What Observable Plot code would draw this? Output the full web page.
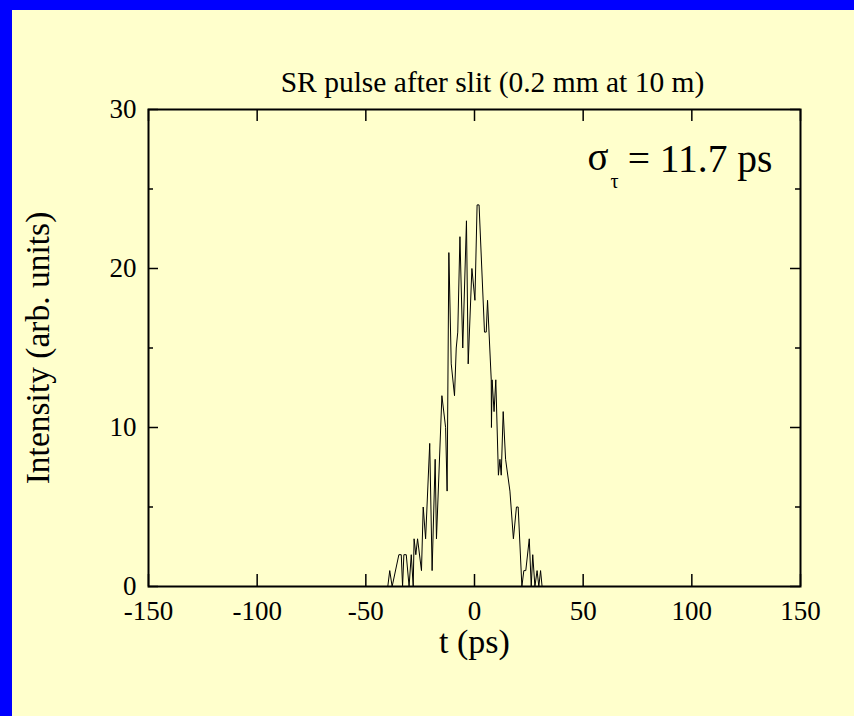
<!DOCTYPE html>
<html><head><meta charset="utf-8">
<script src="https://cdn.jsdelivr.net/npm/d3@7"></script>
<script src="https://cdn.jsdelivr.net/npm/@observablehq/plot@0.6"></script>
<style>
html,body{margin:0;padding:0;background:#FFFFCC;overflow:hidden;}
#wrap{position:absolute;left:0;top:0;width:842px;height:706px;border-left:12px solid #0000FF;border-top:10px solid #0000FF;background:#FFFFCC;}
svg{display:block;}
</style></head><body><div id="wrap"></div>
<script>
const time = [-150, -39.9, -39.0, -37.9, -34.8, -33.7, -33.1, -32.5, -31.4, -30.1, -29.1, -28.2, -27.8, -27.0, -26.2, -24.4, -23.6, -22.5, -20.6, -19.5, -18.1, -17.5, -15.0, -13.3, -12.6, -11.8, -10.7, -9.2, -8.4, -7.7, -6.7, -5.4, -3.7, -2.9, -1.2, 0.2, 1.2, 2.1, 4.6, 5.4, 6.0, 7.7, 7.8, 8.1, 9.0, 9.8, 11.0, 11.7, 12.3, 13.2, 14.3, 16.3, 17.9, 19.3, 20.1, 21.8, 22.7, 23.6, 25.2, 26.1, 26.8, 27.8, 28.8, 29.6, 30.4, 31.1, 150];
const intensity = [0, 0, 1, 0, 2, 2, 0, 2, 2, 0, 2, 0, 3, 2, 3, 1, 5, 3, 9, 1, 8, 3, 12, 10, 6, 21, 14, 12, 15, 16, 22, 15, 23, 14, 20, 18, 24, 24, 16, 16, 18, 13, 10, 13, 11, 13, 7, 8, 7, 11, 8, 6, 3, 5, 5, 0, 1, 1, 3, 0, 2, 0, 1, 0, 1, 0, 0];
const xTicks = [-150, -100, -50, 0, 50, 100, 150];
const yTicks = [0, 10, 20, 30];
const yMinorTicks = [5, 15, 25];
const titleText = "SR pulse after slit (0.2 mm at 10 m)";
const xLabel = "t (ps)";
const yLabel = "Intensity (arb. units)";
const sigmaValue = "= 11.7 ps";

const W = 842, H = 706, mL = 136, mR = 54, mT = 99, mB = 130;
const fw = W - mL - mR, fh = H - mT - mB;
const data = time.map((t, i) => ({t, v: intensity[i]}));
const font = "'Liberation Serif', 'Times New Roman', serif";

const chart = Plot.plot({
  width: W, height: H,
  marginLeft: mL, marginRight: mR, marginTop: mT, marginBottom: mB,
  style: {background: "transparent", fontFamily: font, color: "black"},
  x: {domain: [-150, 150]},
  y: {domain: [0, 30]},
  marks: [
    Plot.line(data, {x: "t", y: "v", stroke: "black", strokeWidth: 1}),
    Plot.tickX(xTicks, {x: d => d, insetTop: fh - 12, stroke: "black", strokeWidth: 1.5}),
    Plot.tickX(xTicks, {x: d => d, insetBottom: fh - 12, stroke: "black", strokeWidth: 1.5}),
    Plot.tickY(yTicks, {y: d => d, insetRight: fw - 10, stroke: "black", strokeWidth: 1.5}),
    Plot.tickY(yTicks, {y: d => d, insetLeft: fw - 10, stroke: "black", strokeWidth: 1.5}),
    Plot.tickY(yMinorTicks, {y: d => d, insetRight: fw - 5, stroke: "black", strokeWidth: 1.5}),
    Plot.tickY(yMinorTicks, {y: d => d, insetLeft: fw - 5, stroke: "black", strokeWidth: 1.5}),
    Plot.frame({stroke: "black", strokeWidth: 2}),
    Plot.axisX({ticks: xTicks, tickSize: 0, tickPadding: 14, fontSize: 27, label: null, tickFormat: d => String(d)}),
    Plot.axisY({ticks: yTicks, tickSize: 0, tickPadding: 12, fontSize: 27, label: null, tickFormat: d => String(d)}),
    Plot.text([titleText], {text: d => d, frameAnchor: "top", dx: 18, dy: -27, fontSize: 29.5, lineAnchor: "middle"}),
    Plot.text([xLabel], {text: d => d, frameAnchor: "bottom", dy: 56, fontSize: 34, lineAnchor: "middle"}),
    Plot.text([yLabel], {text: d => d, frameAnchor: "left", dx: -110, rotate: -90, fontSize: 33.5, textAnchor: "middle", lineAnchor: "middle"}),
    Plot.text([sigmaValue], {text: d => d, frameAnchor: "top-right", dx: -28, dy: 50, fontSize: 39.5, textAnchor: "end", lineAnchor: "middle"}),
    Plot.text(["σ"], {text: d => d, frameAnchor: "top-right", dx: -192, dy: 48, fontSize: 39, textAnchor: "end", lineAnchor: "middle"}),
    Plot.text(["τ"], {text: d => d, frameAnchor: "top-right", dx: -190, dy: 72, fontSize: 20, textAnchor: "start", lineAnchor: "middle"})
  ]
});
document.getElementById("wrap").appendChild(chart);
</script>
</body></html>
